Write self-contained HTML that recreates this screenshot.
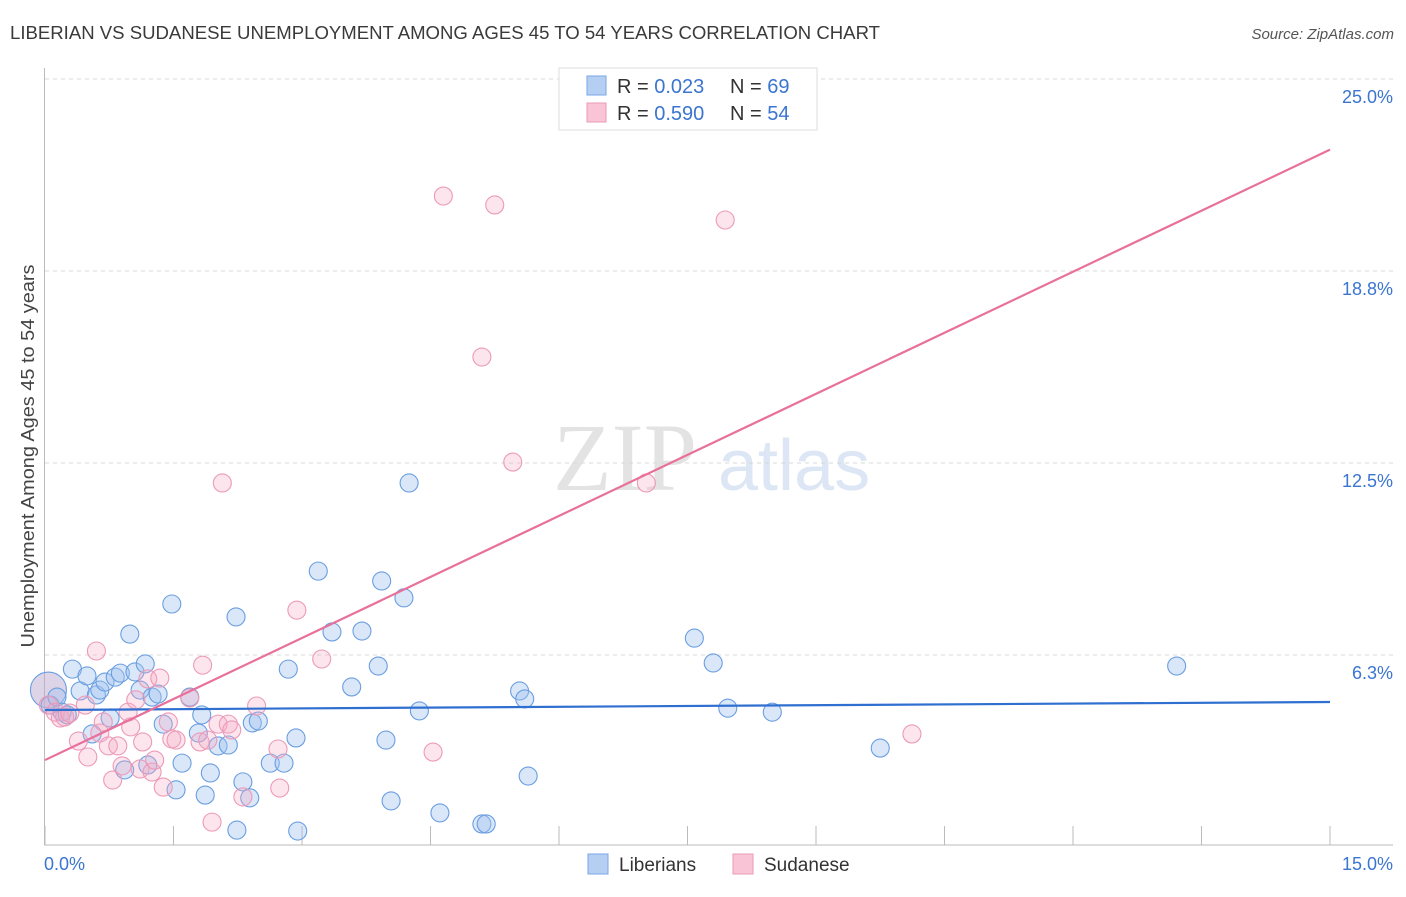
<!DOCTYPE html>
<html><head><meta charset="utf-8"><style>
body{margin:0;background:#fff;font-family:"Liberation Sans",sans-serif}
</style></head><body>
<svg id="c" width="1406" height="892" xmlns="http://www.w3.org/2000/svg" font-family="Liberation Sans, sans-serif">
<text x="10" y="39" font-size="18.5" fill="#3a3a3a" textLength="870" lengthAdjust="spacingAndGlyphs">LIBERIAN VS SUDANESE UNEMPLOYMENT AMONG AGES 45 TO 54 YEARS CORRELATION CHART</text>
<text x="1394" y="39" font-size="15" font-style="italic" fill="#555" text-anchor="end">Source: ZipAtlas.com</text>
<text transform="translate(34,456) rotate(-90)" font-size="18.5" fill="#444" text-anchor="middle" textLength="383" lengthAdjust="spacingAndGlyphs">Unemployment Among Ages 45 to 54 years</text>
<g><text x="553" y="490" font-family="Liberation Serif, serif" font-size="96" fill="#e3e3e3">ZIP</text><text x="718" y="490" font-size="72" fill="#dce6f4">atlas</text></g>
<g id="grid"></g>
<g id="axes"></g>
<g id="pts"></g>
<g id="lines"></g>
<g>
<rect x="559" y="68" width="258" height="62" fill="#fff" stroke="#ddd"/>
<rect x="587" y="76" width="19" height="19" fill="#b5cff3" stroke="#7aa6e4"/>
<rect x="587" y="103" width="19" height="19" fill="#f9c5d6" stroke="#eb9ab6"/>
<text x="617" y="93" font-size="20" fill="#333">R = <tspan fill="#3a75d0">0.023</tspan></text>
<text x="730" y="93" font-size="20" fill="#333">N = <tspan fill="#3a75d0">69</tspan></text>
<text x="617" y="120" font-size="20" fill="#333">R = <tspan fill="#3a75d0">0.590</tspan></text>
<text x="730" y="120" font-size="20" fill="#333">N = <tspan fill="#3a75d0">54</tspan></text>
</g>
<g>
<rect x="588" y="854" width="20" height="20" fill="#b5cff3" stroke="#7aa6e4"/>
<text x="619" y="871" font-size="19" fill="#333">Liberians</text>
<rect x="733" y="854" width="20" height="20" fill="#f9c5d6" stroke="#eb9ab6"/>
<text x="764" y="871" font-size="19" fill="#333">Sudanese</text>
</g>
</svg>
<script>
const xTicks=[0,1.5,3,4.5,6,7.5,9,10.5,12,13.5,15];
const yTicks=[6.25,12.5,18.75,25];
const yTickLabels=["6.3%","12.5%","18.8%","25.0%"];
const xEndLabels=["0.0%","15.0%"];
const blueX=[0.04,0.06,0.14,0.20,0.26,0.32,0.41,0.49,0.55,0.60,0.64,0.70,0.76,0.82,0.88,0.93,0.99,1.05,1.11,1.17,1.20,1.25,1.32,1.38,1.48,1.53,1.60,1.69,1.79,1.83,1.87,1.93,2.02,2.14,2.24,2.23,2.31,2.39,2.42,2.49,2.63,2.79,2.84,2.93,2.95,3.19,3.35,3.58,3.70,3.89,3.93,3.98,4.04,4.19,4.25,4.37,4.61,5.10,5.15,5.54,5.60,5.64,7.58,7.80,7.97,8.49,9.75,13.21];
const blueY=[5.11,4.62,4.88,4.39,4.30,5.79,5.08,5.57,3.68,4.95,5.11,5.37,4.20,5.53,5.66,2.51,6.93,5.70,5.11,5.96,2.67,4.88,4.98,4.00,7.91,1.86,2.73,4.88,3.71,4.30,1.69,2.41,3.29,3.32,0.55,7.49,2.12,1.60,4.04,4.10,2.73,2.73,5.79,3.55,0.52,8.98,7.00,5.21,7.03,5.89,8.66,3.48,1.50,8.11,11.85,4.43,1.11,0.75,0.75,5.08,4.82,2.31,6.80,5.99,4.52,4.39,3.22,5.89];
const pinkX=[0.04,0.12,0.18,0.23,0.29,0.39,0.47,0.50,0.60,0.64,0.68,0.74,0.79,0.85,0.90,0.97,1.00,1.06,1.11,1.14,1.20,1.25,1.28,1.34,1.38,1.44,1.48,1.53,1.69,1.81,1.84,1.90,1.95,2.02,2.07,2.14,2.18,2.31,2.47,2.72,2.74,2.94,3.23,4.53,4.65,5.10,5.25,5.46,7.02,7.94,10.12];
const pinkY=[4.62,4.39,4.20,4.23,4.36,3.45,4.62,2.93,6.38,3.71,4.07,3.29,2.18,3.29,2.64,4.39,3.91,4.79,2.54,3.42,5.47,2.44,2.83,5.50,1.95,4.07,3.52,3.48,4.85,3.42,5.92,3.48,0.81,4.00,11.85,4.00,3.81,1.63,4.59,3.19,1.92,7.71,6.12,3.09,21.19,15.95,20.90,12.53,11.85,20.41,3.68];
const blueTrend=[4.46,4.72];
const pinkTrend=[2.83,22.7];
const NS="http://www.w3.org/2000/svg";
const sx=v=>45+v*(1330-45)/15;
const sy=v=>847-v*30.72;
function mk(t,a,p){const e=document.createElementNS(NS,t);for(const k in a)e.setAttribute(k,a[k]);p.appendChild(e);return e;}
const grid=document.getElementById('grid'),axes=document.getElementById('axes'),pts=document.getElementById('pts'),lines=document.getElementById('lines');
yTicks.forEach((t,i)=>{
 const l=mk('line',{x1:45,x2:1393,y1:sy(t),y2:sy(t),stroke:'#d8d8d8','stroke-dasharray':'4,4'},grid);
 
 
 const tx=mk('text',{x:1393,y:sy(t)+24,'font-size':18,fill:'#3a75d0','text-anchor':'end'},axes);
 tx.textContent=yTickLabels[i];
 
 
});
mk('line',{x1:44.5,x2:44.5,y1:68,y2:845,stroke:'#bbb'},axes);
mk('line',{x1:44,x2:1393,y1:845,y2:845,stroke:'#bbb'},axes);
xTicks.forEach(t=>{const l=mk('line',{x1:sx(t),x2:sx(t),y1:826,y2:845,stroke:'#bbb'},axes);
 
 });
const xl0=mk('text',{x:44,y:870,'font-size':18,fill:'#3a75d0'},axes);xl0.textContent=xEndLabels[0];


const xl1=mk('text',{x:1393,y:870,'font-size':18,fill:'#3a75d0','text-anchor':'end'},axes);xl1.textContent=xEndLabels[1];


blueX.forEach((x,i)=>{const c=mk('circle',{cx:sx(x),cy:sy(blueY[i]),r:i===0?18:9,fill:i===0?'rgba(190,170,210,0.5)':'rgba(160,195,240,0.4)',stroke:'#6a9ee0','stroke-width':1.1},pts);
 
 });
pinkX.forEach((x,i)=>{const c=mk('circle',{cx:sx(x),cy:sy(pinkY[i]),r:9,fill:'rgba(245,170,195,0.3)',stroke:'#ec9ab8','stroke-width':1.1},pts);
 
 });
const bl=mk('line',{x1:sx(0),x2:sx(15),y1:sy(blueTrend[0]),y2:sy(blueTrend[1]),stroke:'#2f6fd0','stroke-width':2.2},lines);


const pl=mk('line',{x1:sx(0),x2:sx(15),y1:sy(pinkTrend[0]),y2:sy(pinkTrend[1]),stroke:'#e8709a','stroke-width':2.2},lines);


</script>
</body></html>
